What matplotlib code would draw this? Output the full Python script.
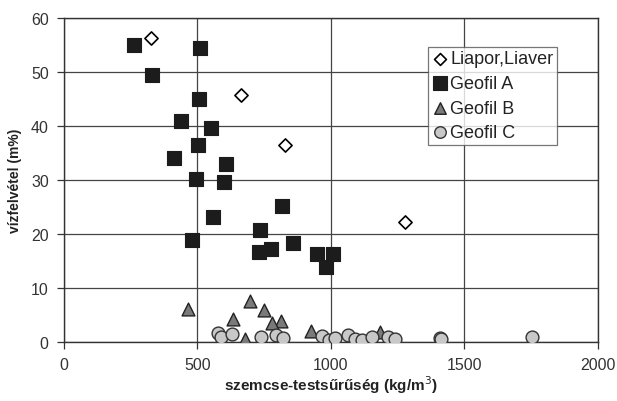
import matplotlib
matplotlib.use("Agg")
import matplotlib.pyplot as plt

plt.rcParams['font.family'] = ['Liberation Sans', 'DejaVu Sans']

liapor_x = [326, 662, 829, 1277]
liapor_y = [56.2, 45.8, 36.4, 22.3]

geoA_x = [263, 508, 328, 504, 439, 552, 502, 411, 608, 494, 598,
          818, 558, 733, 481, 858, 776, 729, 948, 1006, 980]
geoA_y = [55.0, 54.4, 49.4, 45.0, 40.9, 39.6, 36.4, 34.1, 33.0, 30.2, 29.7,
          25.1, 23.1, 20.7, 18.8, 18.3, 17.2, 16.7, 16.3, 16.3, 13.8]

geoB_x = [697, 463, 750, 632, 814, 779, 679, 925, 990, 1183]
geoB_y = [7.6, 6.1, 6.0, 4.3, 3.9, 3.5, 0.6, 2.1, 0.1, 1.9]

geoC_x = [577, 587, 630, 738, 794, 819, 965, 994, 1016, 1065, 1090, 1118,
          1152, 1212, 1238, 1410, 1412, 1751]
geoC_y = [1.7, 1.0, 1.4, 0.9, 1.3, 0.8, 1.1, 0.4, 0.7, 1.3, 0.6, 0.4,
          0.9, 1.0, 0.5, 0.7, 0.5, 1.0]

xticks = [0, 500, 1000, 1500, 2000]
yticks = [0, 10, 20, 30, 40, 50, 60]

fig = plt.figure(figsize=(6.17, 4.02), dpi=100)
ax = fig.add_axes([0.1037, 0.1468, 0.8655, 0.806])

ax.scatter(liapor_x, liapor_y, marker='D', s=45, facecolor='white', edgecolor='black',
           linewidth=1.2, label='Liapor,Liaver', zorder=3)
ax.scatter(geoA_x, geoA_y, marker='s', s=115, facecolor='#1c1c1c', edgecolor='#1c1c1c',
           linewidth=0.8, label='Geofil A', zorder=3)
ax.scatter(geoB_x, geoB_y, marker='^', s=85, facecolor='#7a7a7a', edgecolor='#222222',
           linewidth=1.0, label='Geofil B', zorder=3)
ax.scatter(geoC_x, geoC_y, marker='o', s=85, facecolor='#c8c8c8', edgecolor='#333333',
           linewidth=1.0, label='Geofil C', zorder=3)

ax.set_xlim(0, 2000)
ax.set_ylim(0, 60)
ax.set_xticks(xticks)
ax.set_yticks(yticks)
ax.grid(True, color='#444444', linewidth=0.9)
ax.set_axisbelow(True)
for s in ax.spines.values():
    s.set_color('#333333')
    s.set_linewidth(1.0)
ax.tick_params(axis='both', direction='out', length=5, width=0.9, colors='#333333',
               labelsize=11.5, labelcolor='#333333', pad=6)

ax.set_xlabel('szemcse-testsűrűség (kg/m$^3$)', fontsize=11, fontweight='bold', color='#222222', labelpad=1)
ax.set_ylabel('vízfelvétel (m%)', fontsize=10, fontweight='bold', color='#222222', labelpad=6)

leg = ax.legend(loc='upper left', bbox_to_anchor=(0.6823, 0.911), fontsize=13, frameon=True,
                fancybox=False, edgecolor='#555555', handletextpad=0.1, handlelength=0.9,
                borderpad=0.2, labelspacing=0.42, borderaxespad=0, scatterpoints=1,
                markerscale=0.9)
leg.get_frame().set_linewidth(0.9)
for t in leg.get_texts():
    t.set_color('#222222')

fig.savefig('out.png', dpi=100)
